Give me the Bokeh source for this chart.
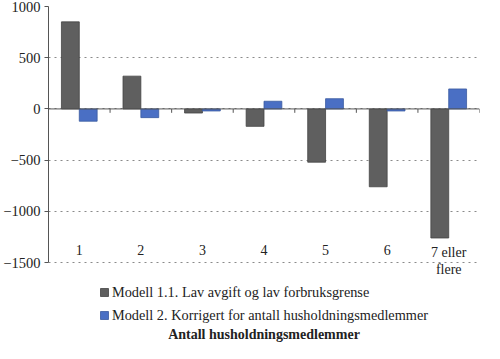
import numpy as np
from bokeh.plotting import figure
from bokeh.models import (ColumnDataSource, FixedTicker, LinearAxis, Legend, LegendItem,
                          LabelSet, Label, Range1d, Span)
from bokeh.embed import file_html
from bokeh.resources import INLINE

categories = ["1", "2", "3", "4", "5", "6", "7 eller\nflere"]
modell_11 = [850, 320, -40, -170, -520, -760, -1260]
modell_2 = [-120, -85, -20, 75, 100, -20, 195]
series_names = ["Modell 1.1. Lav avgift og lav forbruksgrense",
                "Modell 2. Korrigert for antall husholdningsmedlemmer"]
y_ticks = [-1500, -1000, -500, 0, 500, 1000]
x_title = "Antall husholdningsmedlemmer"

FONT = "Liberation Serif"
GRAY = "#5f5f5f"
BLUE = "#4a6fc4"
TXT = "#222222"

n = len(categories)
idx = np.arange(n)
bar_w = 0.29
src = ColumnDataSource(dict(
    x1=idx + 0.5 - bar_w / 2, x2=idx + 0.5 + bar_w / 2,
    m11=modell_11, m2=modell_2,
))

# frame extends below the value axis to hold category labels, legend and title
Y_BOTTOM = -2290
p = figure(width=484, height=343, output_backend="svg", toolbar_location=None,
           x_range=Range1d(0, n), y_range=Range1d(Y_BOTTOM, y_ticks[-1]),
           x_axis_location=None, y_axis_location=None,
           min_border_left=36, min_border_right=5, min_border_top=6, min_border_bottom=0)
p.outline_line_color = None
p.xgrid.visible = False

yaxis = LinearAxis(ticker=FixedTicker(ticks=y_ticks), bounds=(y_ticks[0], y_ticks[-1]))
yaxis.major_label_text_font = FONT
yaxis.major_label_text_font_size = "14.5px"
yaxis.major_label_text_color = TXT
yaxis.axis_line_color = "#555555"
yaxis.major_tick_line_color = "#555555"
yaxis.major_tick_out = 4
yaxis.major_tick_in = 0
yaxis.minor_tick_line_color = None
yaxis.major_label_standoff = 4
p.add_layout(yaxis, "left")
p.ygrid[0].ticker = FixedTicker(ticks=y_ticks)
p.ygrid.grid_line_color = "#8a8a8a"
p.ygrid.grid_line_dash = "2 4"
p.ygrid.grid_line_width = 1

r1 = p.vbar(x="x1", top="m11", bottom=0, width=bar_w, source=src,
            fill_color=GRAY, line_color="#444444", line_width=0.8)
r2 = p.vbar(x="x2", top="m2", bottom=0, width=bar_w, source=src,
            fill_color=BLUE, line_color="#3a5aa0", line_width=0.8)

# category axis at zero with outward ticks at category boundaries
p.add_layout(Span(location=0, dimension="width", line_color="#555555", line_width=1))
bounds_x = np.arange(n + 1)
p.segment(x0=bounds_x, x1=bounds_x, y0=[0] * (n + 1), y1=[-38] * (n + 1),
          line_color="#555555", line_width=1)

# category labels, each line centred separately
lines = [c.split("\n") for c in categories]
first = dict(x=idx + 0.5, y=[-1325] * n, text=[l[0] for l in lines])
sec_i = [i for i, l in enumerate(lines) if len(l) > 1]
second = dict(x=[i + 0.5 for i in sec_i], y=[-1490] * len(sec_i),
              text=[lines[i][1] for i in sec_i])
for d in (first, second):
    p.add_layout(LabelSet(x="x", y="y", text="text", source=ColumnDataSource(d),
                          text_align="center", text_baseline="top", text_font=FONT,
                          text_font_size="14px", text_color=TXT))

legend = Legend(items=[LegendItem(label=series_names[0], renderers=[r1]),
                       LegendItem(label=series_names[1], renderers=[r2])],
                location=(51, 18), orientation="vertical")
legend.label_text_font = FONT
legend.label_text_font_size = "14.3px"
legend.label_text_color = TXT
legend.glyph_width = 10
legend.glyph_height = 10
legend.label_height = 20
legend.spacing = 3
legend.label_standoff = 3
legend.padding = 0
legend.margin = 0
legend.border_line_color = None
legend.background_fill_alpha = 0
p.add_layout(legend, "center")

p.add_layout(Label(x=n / 2, y=-2203, text=x_title, text_align="center",
                   text_baseline="middle", text_font=FONT, text_font_size="14px",
                   text_font_style="bold", text_color=TXT))

open("out.html", "w").write(file_html(p, INLINE))
